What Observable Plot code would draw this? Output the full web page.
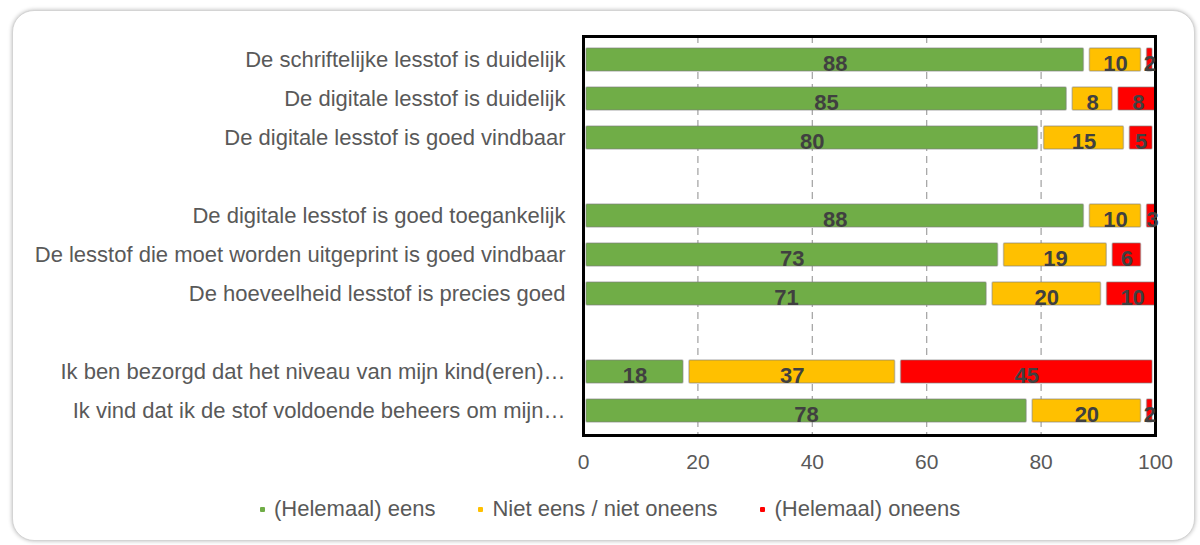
<!DOCTYPE html>
<html>
<head>
<meta charset="utf-8">
<script src="https://cdn.jsdelivr.net/npm/d3@7"></script>
<script src="https://cdn.jsdelivr.net/npm/@observablehq/plot@0.6"></script>
<style>
  html, body { margin: 0; padding: 0; background: #ffffff; }
  body { width: 1200px; height: 545px; position: relative; overflow: hidden; font-family: "Liberation Sans", Arial, sans-serif; }
  #card { position: absolute; left: 12px; top: 10px; width: 1181px; height: 529px; border: 1.5px solid #d4d4d4; border-radius: 22px; box-shadow: 0 0 4px rgba(0,0,0,0.28); background: #fff; }
  #chart { position: absolute; left: 0; top: 0; }
  #legend { position: absolute; left: 260px; top: 496px; display: flex; align-items: center; font-size: 22px; color: #595959; white-space: nowrap; }
  #legend .item { display: flex; align-items: center; margin-right: 43px; }
  #legend .sw { width: 5px; height: 5px; margin-right: 9px; border-radius: 1px; }
</style>
</head>
<body>
<div id="card"></div>
<div id="chart"></div>
<div id="legend"></div>
<script>
const items = [
  "De schriftelijke lesstof is duidelijk",
  "De digitale lesstof is duidelijk",
  "De digitale lesstof is goed vindbaar",
  " ",
  "De digitale lesstof is goed toegankelijk",
  "De lesstof die moet worden uitgeprint is goed vindbaar",
  "De hoeveelheid lesstof is precies goed",
  "  ",
  "Ik ben bezorgd dat het niveau van mijn kind(eren)…",
  "Ik vind dat ik de stof voldoende beheers om mijn…"
];
const categories = ["(Helemaal) eens", "Niet eens / niet oneens", "(Helemaal) oneens"];
const colors = ["#70AD47", "#FFC000", "#FF0000"];
const eens     = [88, 85, 80, null, 88, 73, 71, null, 18, 78];
const neutraal = [10,  8, 15, null, 10, 19, 20, null, 37, 20];
const oneens   = [ 2,  8,  5, null,  3,  6, 10, null, 45,  2];
const xTicks = [0, 20, 40, 60, 80, 100];
const gridTicks = [20, 40, 60, 80];

const series = [eens, neutraal, oneens];
const data = [];
items.forEach((item, i) => {
  series.forEach((s, k) => {
    if (s[i] != null) data.push({item, category: categories[k], value: s[i]});
  });
});

const chart = Plot.plot({
  width: 1200,
  height: 480,
  marginLeft: 583,
  marginRight: 45,
  marginTop: 36,
  marginBottom: 45,
  style: {fontFamily: "'Liberation Sans', Arial, sans-serif", background: "transparent", color: "#595959", overflow: "visible"},
  x: {domain: [0, 100]},
  y: {domain: items, paddingInner: 0.4, paddingOuter: 0.2},
  color: {domain: categories, range: colors},
  marks: [
    Plot.gridX(gridTicks, {stroke: "#a0a0a0", strokeOpacity: 1, strokeWidth: 1.2, strokeDasharray: "7,5"}),
    Plot.barX(data, Plot.stackX({
      x: "value", y: "item", fill: "category", z: "category", order: categories,
      insetLeft: 3, insetRight: 3, clip: true,
      stroke: "#7f7f7f", strokeOpacity: 0.45, strokeWidth: 1.5, rx: 1
    })),
    Plot.frame({stroke: "#000", strokeWidth: 3}),
    Plot.text(data, Plot.stackX({
      x: "value", y: "item", z: "category", text: "value", order: categories,
      fill: "#404040", fontSize: 22, fontWeight: "bold", dy: 4
    })),
    Plot.axisY({tickSize: 0, tickPadding: 18, fontSize: 22, fill: "#595959", label: null}),
    Plot.axisX({ticks: xTicks, tickSize: 0, tickPadding: 19, fontSize: 21, fill: "#595959", label: null})
  ]
});
document.getElementById("chart").appendChild(chart);

const legend = document.getElementById("legend");
categories.forEach((c, i) => {
  const it = document.createElement("div");
  it.className = "item";
  const sw = document.createElement("span");
  sw.className = "sw";
  sw.style.background = colors[i];
  const tx = document.createElement("span");
  tx.textContent = c;
  it.appendChild(sw);
  it.appendChild(tx);
  legend.appendChild(it);
});
</script>
</body>
</html>
